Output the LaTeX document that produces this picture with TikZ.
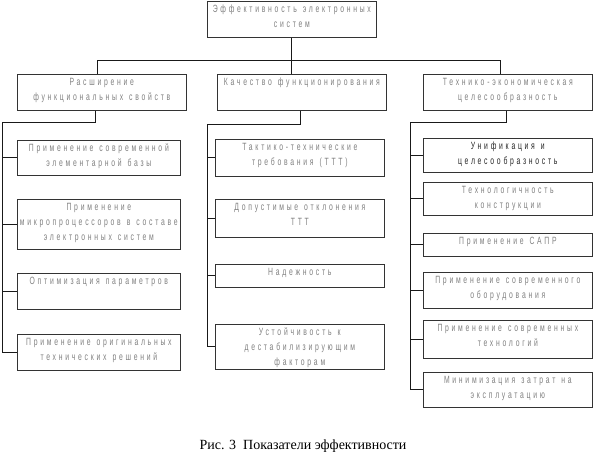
\documentclass[tikz,border=0pt]{standalone}
\usepackage{fontspec}
\setmainfont{Liberation Serif}
\newfontfamily\boxfont[LetterSpace=26,FakeStretch=0.65]{Liberation Sans}
\newcommand\boxtext{\boxfont\fontsize{10.5}{15}\selectfont}
\newcommand\ws{\hspace{6pt}}
\usepackage{tikz}
\usetikzlibrary{calc,positioning}

\tikzset{
  cell/.style={draw=black!80,line width=0.7pt,anchor=north west,align=center,
    font=\boxtext,text=black!50,inner xsep=0.5pt,inner ysep=4pt,text height=7pt},
  lcol/.style={cell,text width=162pt},
  wcol/.style={cell,text width=168pt},
  link/.style={draw=black!90,line width=0.8pt}
}

\begin{document}
\begin{tikzpicture}[x=1pt,y=-1pt]
  \useasboundingbox (0,0) rectangle (594,463);
  \node[wcol,text depth=21pt] (top) at (207,1) {Эффективность\ws электронных\\систем};
  \node[wcol,text depth=21pt] (f1) at (17,74) {Расширение\\функциональных\ws свойств};
  \node[wcol,text depth=21pt] (f2) at (217,74) {Качество\ws функционирования};
  \node[wcol,text depth=21pt] (f3) at (423,74) {Технико-экономическая\\целесообразность};
  \node[lcol,text depth=20pt] (a1) at (17,140) {Применение\ws современной\\элементарной\ws базы};
  \node[lcol,text depth=35pt] (a2) at (17,199) {Применение\\\mbox{микропроцессоров\ws в\ws составе}\\электронных\ws систем};
  \node[lcol,text depth=21pt] (a3) at (17,273) {Оптимизация\ws параметров};
  \node[lcol,text depth=21pt] (a4) at (17,334) {Применение\ws оригинальных\\технических\ws решений};
  \node[wcol,text depth=22pt] (b1) at (215,139) {Тактико-технические\\требования\ws (ТТТ)};
  \node[wcol,text depth=23pt] (b2) at (215,199) {Допустимые\ws отклонения\\ТТТ};
  \node[wcol,text depth=8pt] (b3) at (215,264) {Надежность};
  \node[wcol,text depth=30pt] (b4) at (215,324) {Устойчивость\ws к\\дестабилизирующим\\факторам};
  \node[wcol,text depth=19pt,text=black!85] (c1) at (423,138) {Унификация\ws и\\целесообразность};
  \node[wcol,text depth=18pt] (c2) at (423,182) {Технологичность\\конструкции};
  \node[wcol,text depth=8pt] (c3) at (423,233) {Применение\ws САПР};
  \node[wcol,text depth=21pt] (c4) at (423,272) {Применение\ws современного\\оборудования};
  \node[wcol,text depth=23pt] (c5) at (423,320) {Применение\ws современных\\технологий};
  \node[wcol,text depth=20pt] (c6) at (423,372) {Минимизация\ws затрат\ws на\\эксплуатацию};
  \coordinate (bus) at (97,60);
  \coordinate (busr) at (500,60);
  \coordinate (sa) at (2,122);
  \coordinate (sb) at (207,124);
  \coordinate (sc) at (410,122);
  \draw[link] (top.south) -- (top.south |- f2.north);
  \draw[link] (bus |- f1.north) -- (bus) -- (busr) -- (busr |- f3.north);
  \draw[link] ([xshift=-6pt]f1.south) |- (sa) -- (sa |- a4.west);
  \draw[link] ([xshift=-1pt]f2.south) |- (sb) -- (sb |- b4.west);
  \draw[link] ([xshift=-1pt]f3.south) |- (sc) -- (sc |- c6.west);
  \foreach \n in {a1,a2,a3,a4} \draw[link] (sa |- \n.west) -- (\n.west);
  \foreach \n in {b1,b2,b3,b4} \draw[link] (sb |- \n.west) -- (\n.west);
  \foreach \n in {c1,c2,c3,c4,c5,c6} \draw[link] (sc |- \n.west) -- (\n.west);
  \node[font=\fontsize{14}{16}\selectfont] (cap) at (303,446) {Рис. 3\enspace Показатели эффективности};
\end{tikzpicture}
\end{document}
